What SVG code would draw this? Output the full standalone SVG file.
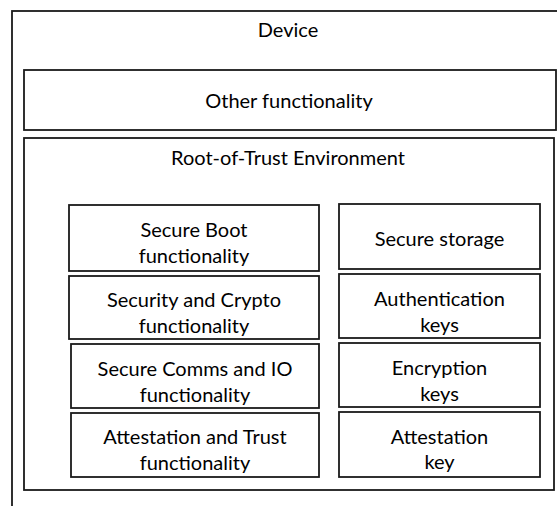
<svg xmlns="http://www.w3.org/2000/svg" width="557" height="506" viewBox="0 0 557 506">
<style>
.box{fill:#fff;stroke:#1a1a1a;stroke-width:1.8}
.t{font-family:Lato,"Open Sans","Liberation Sans",sans-serif;font-size:20px;fill:#000;text-anchor:middle}
</style>
<rect width="557" height="506" fill="#fff"/>
<g id="device">
<rect class="box" x="12" y="11" width="560" height="510"/>
<text class="t" x="288" y="37">Device</text>
</g>
<g id="other">
<rect class="box" x="24" y="70" width="532" height="60"/>
<text class="t" x="289" y="108">Other functionality</text>
</g>
<g id="rot">
<rect class="box" x="24" y="138" width="530" height="352"/>
<text class="t" x="288" y="165">Root-of-Trust Environment</text>
</g>
<g id="secure-boot">
<rect class="box" x="69" y="205" width="250" height="66"/>
<text class="t" x="194" y="237">Secure Boot</text>
<text class="t" x="194" y="263">functionality</text>
</g>
<g id="security-crypto">
<rect class="box" x="69" y="276" width="250" height="63"/>
<text class="t" x="194" y="307">Security and Crypto</text>
<text class="t" x="194" y="333">functionality</text>
</g>
<g id="secure-comms">
<rect class="box" x="71" y="344" width="248" height="64"/>
<text class="t" x="195" y="376">Secure Comms and IO</text>
<text class="t" x="195" y="402">functionality</text>
</g>
<g id="attestation-trust">
<rect class="box" x="71" y="413" width="248" height="64"/>
<text class="t" x="195" y="444">Attestation and Trust</text>
<text class="t" x="195" y="470">functionality</text>
</g>
<g id="secure-storage">
<rect class="box" x="339" y="204" width="201" height="65"/>
<text class="t" x="439.5" y="246">Secure storage</text>
</g>
<g id="auth-keys">
<rect class="box" x="339" y="274" width="201" height="64"/>
<text class="t" x="439.5" y="306">Authentication</text>
<text class="t" x="439.5" y="332">keys</text>
</g>
<g id="enc-keys">
<rect class="box" x="339" y="343" width="201" height="64"/>
<text class="t" x="439.5" y="375">Encryption</text>
<text class="t" x="439.5" y="401">keys</text>
</g>
<g id="attest-key">
<rect class="box" x="339" y="412" width="201" height="65"/>
<text class="t" x="439.5" y="444">Attestation</text>
<text class="t" x="439.5" y="469">key</text>
</g>
<g id="connectors"/>
</svg>
